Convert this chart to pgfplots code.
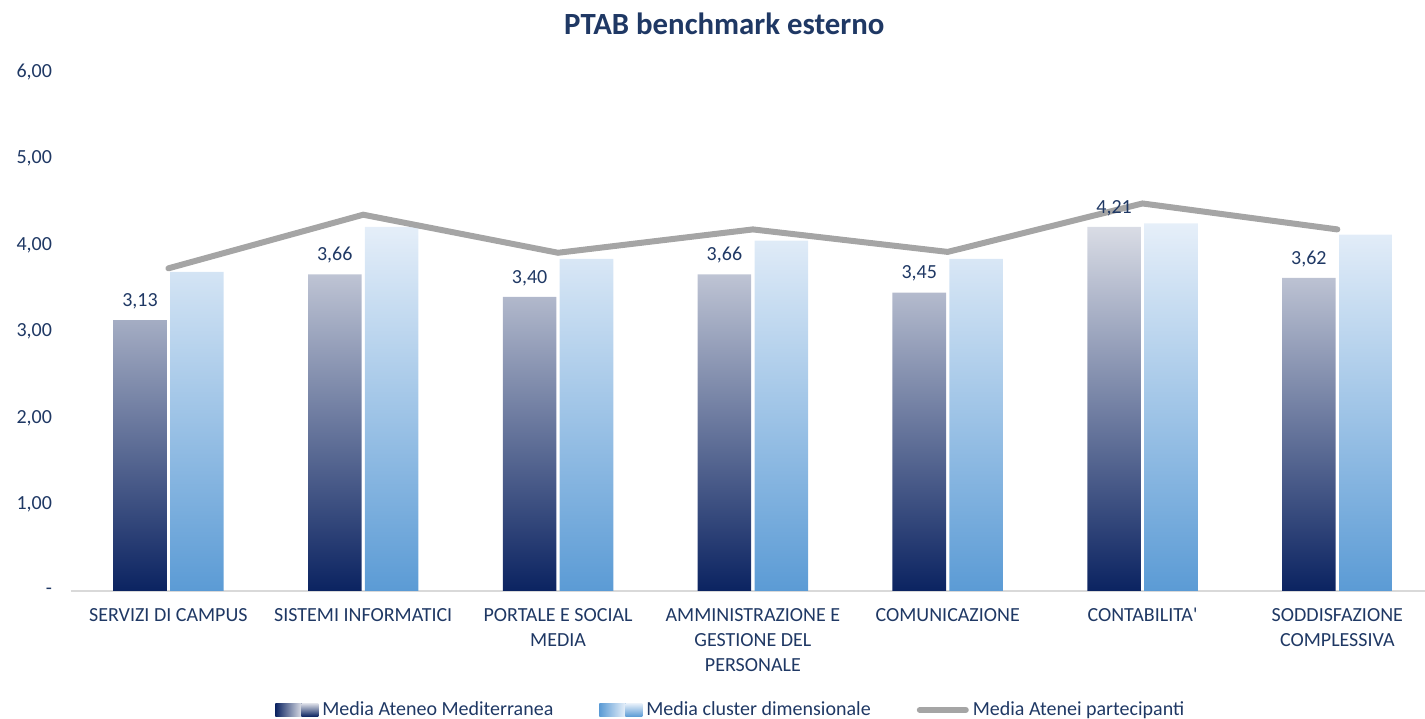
\documentclass[border=0pt]{standalone}
\usepackage{pgfplots}
\pgfplotsset{compat=1.18}
\usepackage{fontspec}
\setmainfont{Carlito}
\definecolor{navy}{HTML}{1F3864}
\definecolor{darkbot}{HTML}{0B2361}
\definecolor{darktop}{HTML}{D9DCE5}
\definecolor{lightbot}{HTML}{5B9BD5}
\definecolor{lighttop}{HTML}{E6EFF9}
\definecolor{linegray}{HTML}{A5A5A5}
\begin{document}
\begin{tikzpicture}
\begin{axis}[
  scale only axis, width=677pt, height=259.5pt,
  xmin=-0.5, xmax=6.45, ymin=0, ymax=6,
  axis lines*=left,
  y axis line style={draw=none},
  x axis line style={draw=black!15, line width=1pt},
  major tick length=0pt,
  ytick={0,1,2,3,4,5,6},
  yticklabels={{-\hspace{4.5pt}},{1,00},{2,00},{3,00},{4,00},{5,00},{6,00}},
  xtick={0,1,2,3,4,5,6},
  xticklabels={{SERVIZI DI CAMPUS},{SISTEMI INFORMATICI},{PORTALE E SOCIAL\\MEDIA},{AMMINISTRAZIONE E\\GESTIONE DEL\\PERSONALE},{COMUNICAZIONE},{CONTABILITA\textquotesingle},{SODDISFAZIONE\\COMPLESSIVA}},
  tick label style={font=\fontsize{10}{12.5}\selectfont, text=navy},
  xticklabel style={align=center, yshift=-5pt},
  yticklabel style={anchor=east, xshift=-6pt},
  title={PTAB benchmark esterno},
  title style={at={(0.4825,1)}, anchor=center, yshift=18pt, font=\bfseries\fontsize{15.4}{18}\selectfont, text=navy},
  legend columns=3,
  legend cell align=left,
  legend style={at={(0.488,0)}, anchor=center, yshift=-59.5pt, draw=none, fill=none,
    font=\fontsize{10}{12}\selectfont, text=navy,
    /tikz/every even column/.append style={column sep=21pt}},
]
\coordinate (bl) at (rel axis cs:0,0);
\coordinate (tr) at (rel axis cs:1,1);

\addplot[ybar, bar width=0.275, bar shift=-0.146, draw=none, top color=darktop, bottom color=darkbot,
  legend image code/.code={
    \shade[left color=darkbot, right color=darktop] (0pt,-3.25pt) rectangle (13pt,3.25pt);
    \fill[darkbot!80!white] (13pt,-3.25pt) rectangle (21.5pt,3.25pt);}]
  coordinates {(0,3.13) (1,3.66) (2,3.40) (3,3.66) (4,3.45) (5,4.21) (6,3.62)};
\addlegendentry{Media Ateneo Mediterranea}

\addplot[ybar, bar width=0.275, bar shift=0.146, draw=none, top color=lighttop, bottom color=lightbot,
  legend image code/.code={
    \shade[left color=lightbot, right color=lighttop] (0pt,-3.25pt) rectangle (13pt,3.25pt);
    \fill[lightbot!85!white] (13pt,-3.25pt) rectangle (21.5pt,3.25pt);}]
  coordinates {(0,3.69) (1,4.21) (2,3.84) (3,4.05) (4,3.84) (5,4.25) (6,4.12)};
\addlegendentry{Media cluster dimensionale}

\addplot[linegray, line width=3pt, line cap=round, mark=none,
  legend image code/.code={\draw[linegray, line width=3pt] (0pt,0pt) -- (23pt,0pt);}]
  coordinates {(0,3.73) (1,4.35) (2,3.91) (3,4.18) (4,3.92) (5,4.48) (6,4.18)};
\addlegendentry{Media Atenei partecipanti}

\addplot[draw=none, mark=none, forget plot,
  point meta=y,
  nodes near coords={\pgfmathprintnumber[fixed,fixed zerofill,precision=2,use comma,assume math mode=true]{\pgfplotspointmeta}},
  every node near coord/.append style={font=\fontsize{10}{12}\selectfont, text=navy, anchor=south, yshift=2pt}]
  coordinates {(-0.146,3.13) (0.854,3.66) (1.854,3.40) (2.854,3.66) (3.854,3.45) (4.854,4.21) (5.854,3.62)};
\end{axis}
\pgfresetboundingbox
\path[use as bounding box] ([xshift=-35.5pt,yshift=-64pt]bl) rectangle ([yshift=36pt]tr);
\end{tikzpicture}
\end{document}
